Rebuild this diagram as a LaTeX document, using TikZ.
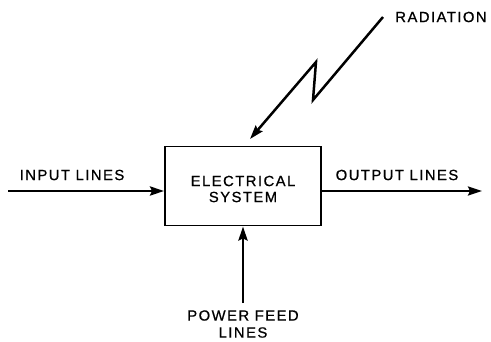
\documentclass[tikz,border=0pt]{standalone}
\usepackage{fontspec}
\setmainfont{Liberation Sans}[LetterSpace=10,FakeBold=0.8]
\usetikzlibrary{arrows.meta}
\begin{document}
\begin{tikzpicture}[x=1pt,y=-1pt,
  lbl/.style={font=\fontsize{14.8}{17}\selectfont, inner sep=0pt, align=center},
  conn/.style={line width=2.5pt, -{Stealth[length=14pt,width=9pt,inset=2pt]}},
  sysbox/.style={draw, line width=1.8pt, minimum width=156pt, minimum height=79pt, inner sep=0pt}]
\useasboundingbox (0,0) rectangle (491,341);
\node[sysbox] (sys) at (243,186) {};
\node[lbl] (sysA) at (243,181) {ELECTRICAL};
\node[lbl] (sysB) at (243,197) {SYSTEM};
\node[lbl] (in) at (72,175) {INPUT LINES};
\node[lbl] (out) at (397,175) {OUTPUT LINES};
\node[lbl] (rad) at (441,17) {RADIATION};
\node[lbl] (pw) at (243,324) {POWER FEED\\[0pt]LINES};
\coordinate (inS) at (8,191);
\coordinate (outE) at (482,191);
\coordinate (pwS) at (243,303);
\coordinate (radS) at (383,17);
\coordinate (radT) at (250,139);
\draw[conn] (inS) -- (sys.west |- inS);
\draw[conn] (sys.east |- outE) -- (outE);
\draw[conn] (pwS) -- (sys.south);
\draw[conn, line join=miter] (radS) -- (313,100) -- (316,62) -- (radT);
\end{tikzpicture}
\end{document}
